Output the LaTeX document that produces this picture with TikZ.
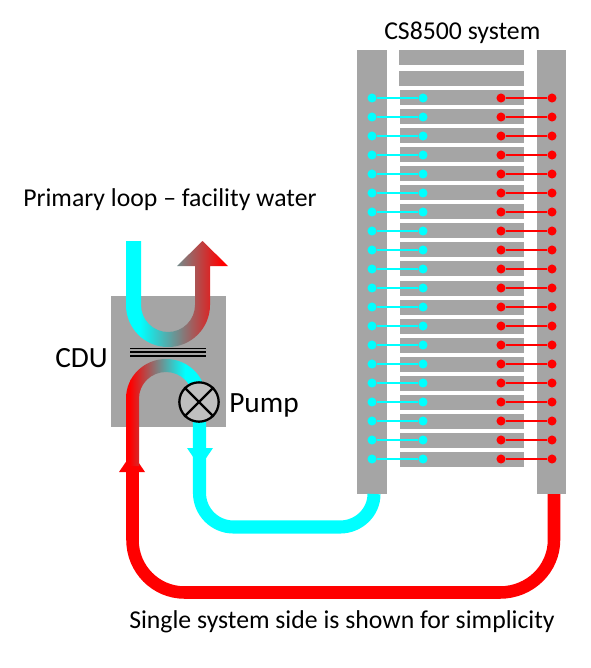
\documentclass[tikz,border=0pt]{standalone}
\usepackage{fontspec}
\setmainfont{Carlito}
\definecolor{cyanw}{RGB}{0,255,255}
\definecolor{redw}{RGB}{255,0,0}
\definecolor{pipegray}{RGB}{165,165,165}
\begin{document}
\begin{tikzpicture}[x=0.75pt,y=-0.75pt,
  graybox/.style={fill=pipegray,draw=none},
  cyanline/.style={draw=cyanw,line width=1.5pt},
  redline/.style={draw=redw,line width=1.5pt},
  cyandot/.style={circle,fill=cyanw,draw=none,inner sep=0pt,minimum size=6.8pt},
  reddot/.style={circle,fill=redw,draw=none,inner sep=0pt,minimum size=6.8pt},
  lbl/.style={inner sep=0pt,anchor=west,font=\fontsize{19.3pt}{21pt}\selectfont},
  lblbig/.style={inner sep=0pt,anchor=west,font=\fontsize{22pt}{24pt}\selectfont},
  ]
\useasboundingbox (0,0) rectangle (591,668);
\fill[white] (0,0) rectangle (591,668);
% rails and bars
\fill[graybox] (357,50) rectangle (387,494);
\fill[graybox] (537,50) rectangle (566,494);
\fill[graybox] (399,50) rectangle (524,65);
\fill[graybox] (399,71) rectangle (524,86);
\foreach \i in {0,...,19}{
  \pgfmathsetmacro{\yy}{90+19.05*\i}
  \fill[graybox] (400,\yy) rectangle (524,\yy+15);
  \pgfmathsetmacro{\yc}{98+19*\i}
  \node[cyandot] (ca\i) at (372,\yc) {};
  \node[cyandot] (cb\i) at (423,\yc) {};
  \node[reddot] (ra\i) at (501,\yc) {};
  \node[reddot] (rb\i) at (552,\yc) {};
  \draw[cyanline] (ca\i) -- (cb\i);
  \draw[redline] (ra\i) -- (rb\i);
}
% CDU box
\fill[graybox] (111,296) rectangle (226,427);
% external pipes
\coordinate (cdo) at (199.5,421);
\coordinate (cdi) at (374,494);
\draw[cyanw,line width=9.8pt] (cdo) -- (199.5,493) arc[start angle=180,end angle=90,x radius=34,y radius=34] -- (340,527) arc[start angle=90,end angle=0,x radius=34,y radius=33] -- (cdi);
\coordinate (rdo) at (554,494);
\coordinate (rdi) at (132.5,470);
\draw[redw,line width=9.4pt] (rdi) -- (132.5,540) arc[start angle=180,end angle=90,x radius=52,y radius=52.5] -- (500,592.5) arc[start angle=90,end angle=0,x radius=54,y radius=52.5] -- (rdo);
\fill[cyanw] (187,448) -- (213,448) -- (200,467) -- cycle;
\fill[redw] (119,472) -- (145,472) -- (132,453) -- cycle;
% primary U with shaded arrow
\begin{scope}
\clip (126,241) -- (141,241) -- (141,305) arc[start angle=180,end angle=0,x radius=27,y radius=27] -- (195,266) -- (177,266) -- (202.5,241) -- (228,266) -- (210,266) -- (210,305) arc[start angle=0,end angle=180,x radius=42,y radius=42] -- cycle;
\shade[left color=cyanw,right color=redw] (140,235) rectangle (222,350);
\fill[cyanw] (126,235) rectangle (140.5,350);
\fill[redw] (221.5,235) rectangle (230,350);
\end{scope}
% secondary arch
\begin{scope}
\clip (126,466) -- (126,398.5) arc[start angle=180,end angle=360,x radius=40,y radius=39.5] -- (206,405) -- (193,405) -- (193,398.5) arc[start angle=0,end angle=-180,x radius=27,y radius=26.5] -- (139,466) -- cycle;
\shade[left color=redw,right color=cyanw] (130,355) rectangle (185,470);
\fill[redw] (120,355) rectangle (130.5,470);
\fill[cyanw] (184.5,355) rectangle (210,470);
\end{scope}
% heat exchanger lines
\draw[black,line width=1.25pt] (130,348.4) -- (206,348.4) (130,352.3) -- (206,352.3) (130,356) -- (206,356);
% pump
\node[circle,draw=black,fill=black!25,line width=1.7pt,minimum size=29.5pt,inner sep=0pt] (pump) at (199,402) {};
\draw[black,line width=1.7pt] (pump.north west) -- (pump.south east) (pump.north east) -- (pump.south west);
% labels
\node[lbl] (t1) at (384,33) {CS8500 system};
\node[lbl] (t2) at (23,199.5) {Primary loop – facility water};
\node[lblbig] (t3) at (55,358) {CDU};
\node[lblbig] (t4) at (229,405.5) {Pump};
\node[lbl] (t5) at (129,622) {Single system side is shown for simplicity};
\end{tikzpicture}
\end{document}
